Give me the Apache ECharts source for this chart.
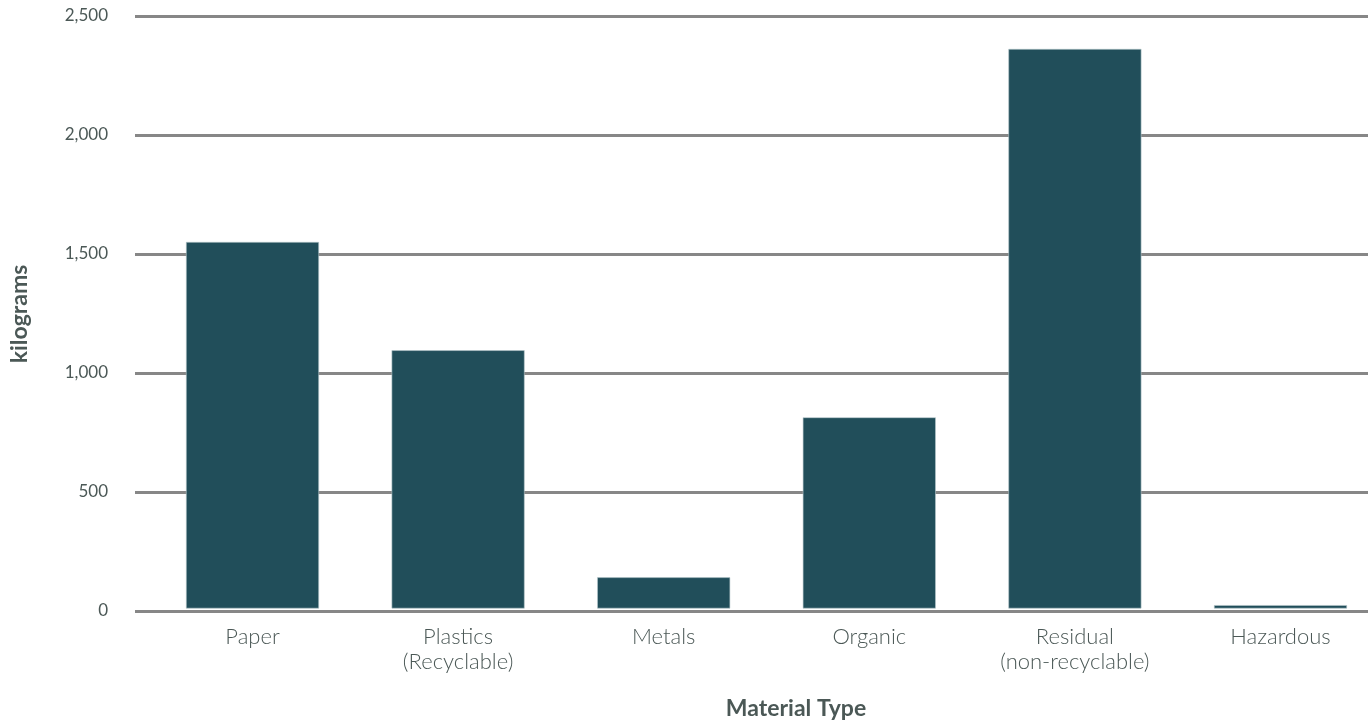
<!DOCTYPE html>
<html><head><meta charset="utf-8">
<script src="https://cdn.jsdelivr.net/npm/echarts@6/dist/echarts.min.js"></script>
<style>html,body{margin:0;padding:0;background:#fff}#c{width:1368px;height:722px}</style>
</head><body><div id="c"></div>
<script>
const categories = ['Paper', 'Plastics\n(Recyclable)', 'Metals', 'Organic', 'Residual\n(non-recyclable)', 'Hazardous'];
const values = [1540, 1085, 131, 803, 2351, 14];
const yTicks = [0, 500, 1000, 1500, 2000, 2500];

const txt = '#4b5856';
const chart = echarts.init(document.getElementById('c'));
chart.setOption({
  animation: false,
  grid: [
    {left: 135, right: 0, top: 16, bottom: 111, outerBoundsMode: 'none'},
    {left: 149.7, width: 1233.6, top: 13.5, bottom: 113.5, outerBoundsMode: 'none', containLabel: false}
  ],
  xAxis: [
    {gridIndex: 0, type: 'value', show: false, min: 0, max: 1},
    {gridIndex: 1, type: 'category', data: categories,
     axisLine: {show: false}, axisTick: {show: false},
     axisLabel: {margin: 16, color: txt, fontFamily: 'Lato', fontWeight: 300, fontSize: 22, lineHeight: 25}}
  ],
  yAxis: [
    {gridIndex: 0, type: 'value', min: yTicks[0], max: yTicks[yTicks.length-1], interval: 500,
     axisLine: {show: false}, axisTick: {show: false},
     splitLine: {lineStyle: {color: '#878787', width: 3}},
     axisLabel: {margin: 27, color: txt, fontFamily: 'Lato', fontSize: 17,
       formatter: v => v.toLocaleString('en-US')}},
    {gridIndex: 1, type: 'value', min: 0, max: 2500, show: false}
  ],
  series: [{
    type: 'bar', xAxisIndex: 1, yAxisIndex: 1, data: values,
    barWidth: '64.7%',
    itemStyle: {color: '#214e5a', borderColor: '#b9c9cc', borderWidth: 0.6}
  }],
  graphic: [
    {type: 'text', x: 796, y: 709, style: {text: 'Material Type', fill: txt, font: 'bold 23px Lato', textAlign: 'center', textVerticalAlign: 'middle'}},
    {type: 'text', x: 20, y: 314, rotation: Math.PI/2, style: {text: 'kilograms', fill: txt, font: 'bold 23px Lato', textAlign: 'center', textVerticalAlign: 'middle'}}
  ]
});
</script></body></html>
